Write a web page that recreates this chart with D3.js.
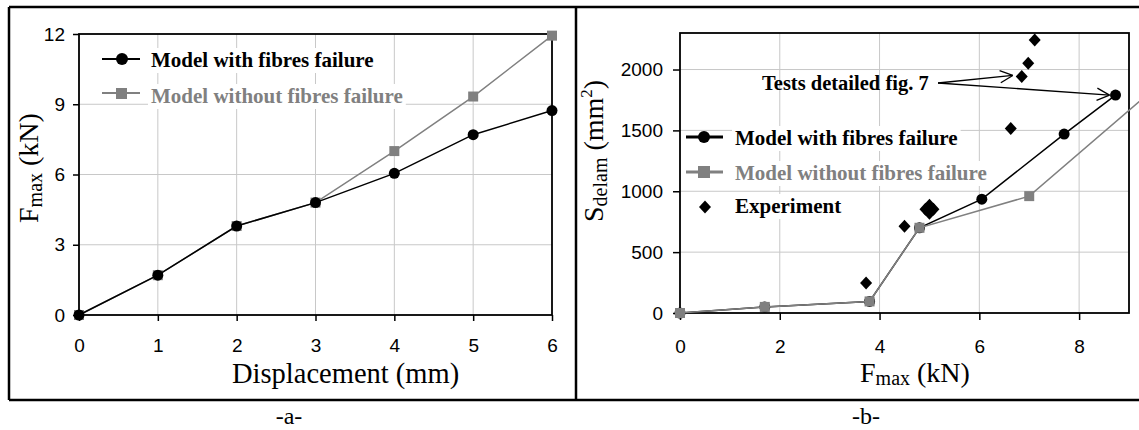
<!DOCTYPE html>
<html><head><meta charset="utf-8">
<script src="https://cdn.jsdelivr.net/npm/d3@7"></script>
<style>body{margin:0;background:#fff}svg{display:block}</style>
</head><body><svg id="c" width="1139" height="430"></svg>
<script>
// ---- data ----
const dispMm      = [0, 1, 2, 3, 4, 5, 6];
const fmaxWith    = [0, 1.7, 3.8, 4.8, 6.05, 7.7, 8.73];
const fmaxWithout = [0, 1.7, 3.8, 4.8, 7.0, 9.33, 11.93];
const bFWith      = [0, 1.7, 3.8, 4.8, 6.05, 7.7, 8.73];
const bSWith      = [0, 50, 95, 700, 935, 1470, 1790];
const bFWithout   = [0, 1.7, 3.8, 4.8, 7.0, 9.33];
const bSWithout   = [0, 50, 95, 700, 960, 1780];
const expF        = [3.73, 4.5, 4.92, 5.08, 5.0, 5.0, 6.63, 6.85, 6.98, 7.11];
const expS        = [246, 713, 852, 852, 885, 820, 1516, 1943, 2052, 2243];
const aTicksX = [0, 1, 2, 3, 4, 5, 6];
const aTicksY = [0, 3, 6, 9, 12];
const bTicksX = [0, 2, 4, 6, 8];
const bTicksY = [0, 500, 1000, 1500, 2000];
const legendLabels = ["Model with fibres failure", "Model without fibres failure", "Experiment"];
const annotation = "Tests detailed fig. 7";

const svg = d3.select("#c");
const GRAY = "#808080", GRID = "#c8c8c8";
const SERIF = "'Liberation Serif','Times New Roman',serif";
const SANS = "'Liberation Sans',Arial,sans-serif";

// outer frame
svg.append("path").attr("d","M9,7H1139 M9,7V400 M9,400H1139 M576,7V400")
  .attr("stroke","#000").attr("stroke-width",2.5).attr("fill","none");

function panel(xd, yd, box, tx, ty, tickPadX, tickPadY, tickLen){
  const x = d3.scaleLinear().domain(xd).range([box.x0, box.x1]);
  const y = d3.scaleLinear().domain(yd).range([box.y0, box.y1]);
  const g = svg.append("g");
  g.selectAll(".gx").data(tx.filter(v=>v>xd[0] && v<xd[1])).join("line")
    .attr("x1",d=>x(d)).attr("x2",d=>x(d)).attr("y1",box.y0).attr("y2",box.y1)
    .attr("stroke",GRID).attr("stroke-width",1);
  g.selectAll(".gy").data(ty.filter(v=>v>yd[0] && v<yd[1])).join("line")
    .attr("y1",d=>y(d)).attr("y2",d=>y(d)).attr("x1",box.x0).attr("x2",box.x1)
    .attr("stroke",GRID).attr("stroke-width",1);
  g.append("rect").attr("x",box.x0).attr("y",box.y1).attr("width",box.x1-box.x0)
    .attr("height",box.y0-box.y1).attr("fill","none").attr("stroke","#000").attr("stroke-width",1.8);
  const ax = g.append("g").attr("transform",`translate(0,${box.y0})`)
    .call(d3.axisBottom(x).tickValues(tx).tickSize(tickLen).tickPadding(tickPadX).tickFormat(d3.format("d")));
  const ay = g.append("g").attr("transform",`translate(${box.x0},0)`)
    .call(d3.axisLeft(y).tickValues(ty).tickSize(tickLen).tickPadding(tickPadY).tickFormat(d3.format("d")));
  [ax,ay].forEach(a=>{
    a.select(".domain").remove();
    a.selectAll("line").attr("stroke","#000").attr("stroke-width",1.5);
    a.selectAll("text").attr("font-family",SANS).attr("font-size",19).attr("fill","#000");
  });
  return {x,y,g};
}

function circles(g, xs, ys, x, y){
  g.selectAll(null).data(xs.map((v,i)=>[v,ys[i]])).join("circle")
    .attr("cx",d=>x(d[0])).attr("cy",d=>y(d[1])).attr("r",5.5).attr("fill","#000");
}
function squares(g, xs, ys, x, y){
  g.selectAll(null).data(xs.map((v,i)=>[v,ys[i]])).join("rect")
    .attr("x",d=>x(d[0])-5).attr("y",d=>y(d[1])-5).attr("width",10).attr("height",10).attr("fill",GRAY);
}
function lineOf(g, xs, ys, x, y, color, w){
  g.append("path").datum(xs.map((v,i)=>[v,ys[i]]))
    .attr("d", d3.line().x(d=>x(d[0])).y(d=>y(d[1])))
    .attr("fill","none").attr("stroke",color).attr("stroke-width",w);
}
function legendText(g, tx, ty, txt, color){
  const bg = g.append("rect").attr("fill","#fff");
  const t = g.append("text").attr("x",tx).attr("y",ty).text(txt)
    .attr("font-family",SERIF).attr("font-weight","bold").attr("font-size",21).attr("fill",color);
  const bb = t.node().getBBox();
  bg.attr("x",bb.x-3).attr("y",bb.y).attr("width",bb.width+6).attr("height",bb.height+1);
  return t;
}
const DIAMOND = "M0,-6.5L6,0L0,6.5L-6,0Z";

// ---- panel a ----
const A = panel([0,6],[0,12],{x0:79,x1:552,y0:315,y1:34},aTicksX,aTicksY,18,8,6);
lineOf(A.g, dispMm, fmaxWithout, A.x, A.y, GRAY, 1.5);
squares(A.g, dispMm, fmaxWithout, A.x, A.y);
lineOf(A.g, dispMm, fmaxWith, A.x, A.y, "#000", 1.5);
circles(A.g, dispMm, fmaxWith, A.x, A.y);
{
  const g = svg.append("g");
  legendText(g,151,67,legendLabels[0],"#000");
  legendText(g,151,103,legendLabels[1],GRAY);
  g.append("line").attr("x1",102).attr("x2",140).attr("y1",59).attr("y2",59).attr("stroke","#000").attr("stroke-width",2);
  g.append("circle").attr("cx",122).attr("cy",59).attr("r",6).attr("fill","#000");
  g.append("line").attr("x1",102).attr("x2",140).attr("y1",93).attr("y2",93).attr("stroke",GRAY).attr("stroke-width",2);
  g.append("rect").attr("x",116).attr("y",88).attr("width",11).attr("height",11).attr("fill",GRAY);
}
svg.append("text").attr("x",232).attr("y",383).attr("font-family",SERIF).attr("font-size",28.5).text("Displacement (mm)");
{
  const t = svg.append("text").attr("transform","translate(38,223) rotate(-90)").attr("font-family",SERIF).attr("font-size",28);
  t.append("tspan").text("F");
  t.append("tspan").attr("font-size",20).attr("dy",4).text("max");
  t.append("tspan").attr("dy",-4).text(" (kN)");
}

// ---- panel b ----
const B = panel([0,9],[0,2300],{x0:680,x1:1129,y0:313,y1:33},bTicksX,bTicksY,20,10,7);
lineOf(B.g, bFWith, bSWith, B.x, B.y, "#000", 1.5);
circles(B.g, bFWith, bSWith, B.x, B.y);
lineOf(B.g, bFWithout, bSWithout, B.x, B.y, GRAY, 1.5);
squares(B.g, bFWithout, bSWithout, B.x, B.y);
B.g.selectAll(null).data(expF.map((v,i)=>[v,expS[i]])).join("path")
  .attr("d",DIAMOND).attr("transform",d=>`translate(${B.x(d[0])},${B.y(d[1])})`).attr("fill","#000");
{
  const g = svg.append("g");
  legendText(g,735,145,legendLabels[0],"#000");
  legendText(g,735,180,legendLabels[1],GRAY);
  legendText(g,735,213,legendLabels[2],"#000");
  g.append("line").attr("x1",686).attr("x2",723).attr("y1",137).attr("y2",137).attr("stroke","#000").attr("stroke-width",3);
  g.append("circle").attr("cx",704).attr("cy",137).attr("r",6).attr("fill","#000");
  g.append("line").attr("x1",686).attr("x2",723).attr("y1",172).attr("y2",172).attr("stroke",GRAY).attr("stroke-width",3);
  g.append("rect").attr("x",698).attr("y",166).attr("width",12).attr("height",12).attr("fill",GRAY);
  g.append("path").attr("d",DIAMOND).attr("transform","translate(705,207)").attr("fill","#000");
}
{
  const g = svg.append("g");
  g.append("text").attr("x",762).attr("y",90).attr("font-family",SERIF).attr("font-weight","bold").attr("font-size",20.5).text(annotation);
  const sx = 938, sy = 83;
  const t1 = [B.x(expF[7])-9, B.y(expS[7])-1];
  const t2 = [B.x(bFWith[6])-6, B.y(bSWith[6])];
  [t1,t2].forEach(t=>{
    g.append("line").attr("x1",sx).attr("y1",sy).attr("x2",t[0]).attr("y2",t[1]).attr("stroke","#000").attr("stroke-width",1.3);
    const ang = Math.atan2(t[1]-sy, t[0]-sx);
    [0.45,-0.45].forEach(da=>{
      g.append("line").attr("x1",t[0]).attr("y1",t[1])
        .attr("x2",t[0]-14*Math.cos(ang+da)).attr("y2",t[1]-14*Math.sin(ang+da))
        .attr("stroke","#000").attr("stroke-width",1.3);
    });
  });
}
{
  const t = svg.append("text").attr("x",860).attr("y",382).attr("font-family",SERIF).attr("font-size",28);
  t.append("tspan").text("F");
  t.append("tspan").attr("font-size",20).attr("dy",3).text("max");
  t.append("tspan").attr("dy",-3).text(" (kN)");
}
{
  const t = svg.append("text").attr("transform","translate(603,222) rotate(-90)").attr("font-family",SERIF).attr("font-size",28);
  t.append("tspan").text("S");
  t.append("tspan").attr("font-size",20).attr("dy",4).text("delam");
  t.append("tspan").attr("dy",-4).text(" (mm");
  t.append("tspan").attr("font-size",17).attr("dy",-11).text("2");
  t.append("tspan").attr("dy",11).text(")");
}
svg.append("text").attr("x",289).attr("y",424).attr("text-anchor","middle").attr("font-family",SERIF).attr("font-size",24).text("-a-");
svg.append("text").attr("x",866).attr("y",424).attr("text-anchor","middle").attr("font-family",SERIF).attr("font-size",24).text("-b-");
</script></body></html>
